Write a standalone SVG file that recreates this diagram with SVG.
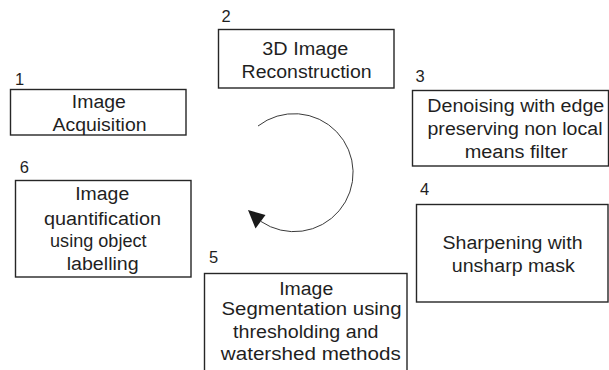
<svg xmlns="http://www.w3.org/2000/svg" width="609" height="370" viewBox="0 0 609 370">
  <style>
    .box { fill: #ffffff; stroke: #262626; stroke-width: 1.4; }
    .t { font-family: "Liberation Sans", Arial, Helvetica, sans-serif; font-size: 18px; fill: #1f1f1f; text-anchor: middle; }
    .num { font-family: "Liberation Sans", Arial, Helvetica, sans-serif; font-size: 16.5px; fill: #1f1f1f; }
    .cycle { fill: none; stroke: #3a3a3a; stroke-width: 1; }
  </style>
  <rect width="609" height="370" fill="#ffffff"/>

  <!-- circular workflow arrow -->
  <g id="connectors">
    <path class="cycle" d="M 258 126 A 59 59 0 1 1 261 221.5"/>
    <polygon points="248,210 265.5,215 255.5,228.5" fill="#1a1a1a"/>
  </g>

  <g id="step1">
    <text class="num" x="15" y="85">1</text>
    <rect class="box" x="10.5" y="89.5" width="175.5" height="45.5"/>
    <text class="t" x="98.8" y="107.5" textLength="54" lengthAdjust="spacingAndGlyphs">Image</text>
    <text class="t" x="99.5" y="131" textLength="94" lengthAdjust="spacingAndGlyphs">Acquisition</text>
  </g>

  <g id="step2">
    <text class="num" x="221.5" y="22">2</text>
    <rect class="box" x="218.5" y="29.5" width="175.5" height="58.5"/>
    <text class="t" x="305.3" y="55" textLength="86" lengthAdjust="spacingAndGlyphs">3D Image</text>
    <text class="t" x="306.6" y="77.7" textLength="130" lengthAdjust="spacingAndGlyphs">Reconstruction</text>
  </g>

  <g id="step3">
    <text class="num" x="415.5" y="82">3</text>
    <rect class="box" x="412.5" y="90.5" width="196" height="75.5"/>
    <text class="t" x="515.8" y="112" textLength="177" lengthAdjust="spacingAndGlyphs">Denoising with edge</text>
    <text class="t" x="515" y="135.3" textLength="175" lengthAdjust="spacingAndGlyphs">preserving non local</text>
    <text class="t" x="516.2" y="158" textLength="103" lengthAdjust="spacingAndGlyphs">means filter</text>
  </g>

  <g id="step4">
    <text class="num" x="420" y="195">4</text>
    <rect class="box" x="416.5" y="204.5" width="191.5" height="97.5"/>
    <text class="t" x="512.5" y="249" textLength="140" lengthAdjust="spacingAndGlyphs">Sharpening with</text>
    <text class="t" x="513.3" y="271.7" textLength="123" lengthAdjust="spacingAndGlyphs">unsharp mask</text>
  </g>

  <g id="step5">
    <text class="num" x="209" y="263">5</text>
    <rect class="box" x="204.5" y="273.5" width="202.5" height="110"/>
    <text class="t" x="306.2" y="295" textLength="54" lengthAdjust="spacingAndGlyphs">Image</text>
    <text class="t" x="311.5" y="314.5" textLength="180" lengthAdjust="spacingAndGlyphs">Segmentation using</text>
    <text class="t" x="305.8" y="337.7" textLength="145.5" lengthAdjust="spacingAndGlyphs">thresholding and</text>
    <text class="t" x="310.8" y="360" textLength="180" lengthAdjust="spacingAndGlyphs">watershed methods</text>
  </g>

  <g id="step6">
    <text class="num" x="19.7" y="173">6</text>
    <rect class="box" x="15.5" y="180.5" width="175.5" height="96.5"/>
    <text class="t" x="102.2" y="200" textLength="54" lengthAdjust="spacingAndGlyphs">Image</text>
    <text class="t" x="102.5" y="224.5" textLength="117" lengthAdjust="spacingAndGlyphs">quantification</text>
    <text class="t" x="98.3" y="247" textLength="96.5" lengthAdjust="spacingAndGlyphs">using object</text>
    <text class="t" x="102.7" y="269.5" textLength="72" lengthAdjust="spacingAndGlyphs">labelling</text>
  </g>
</svg>
